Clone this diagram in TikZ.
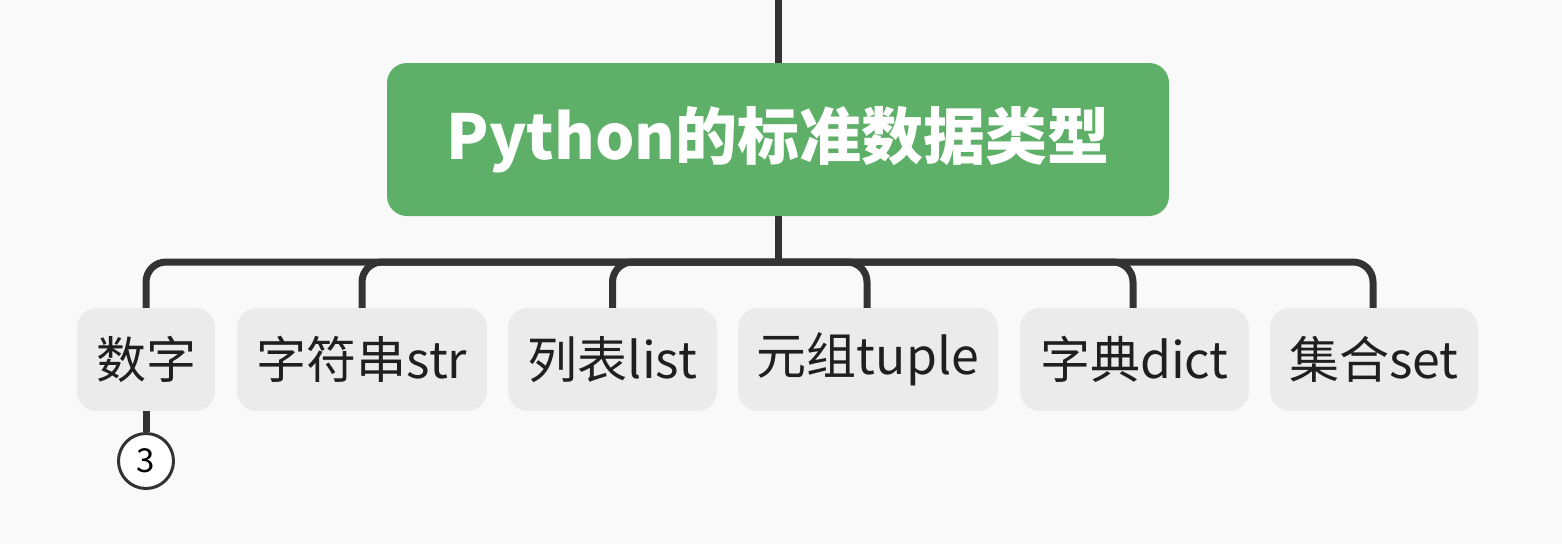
\documentclass[tikz,border=0pt]{standalone}
\usepackage{fontspec}
\setmainfont{Noto Sans CJK SC}
\usepackage{tikz}

\definecolor{rootgreen}{HTML}{5EAF67}
\definecolor{topicgray}{HTML}{EBEBEB}
\definecolor{linegray}{HTML}{333333}
\definecolor{paper}{HTML}{F9F9F9}

\tikzset{
  rootbox/.style={fill=rootgreen, rounded corners=20pt, inner sep=0pt,
    minimum width=782pt, minimum height=153pt, text=white,
    font=\fontsize{62}{70}\selectfont\bfseries},
  topicbox/.style={fill=topicgray, rounded corners=20pt, inner sep=0pt,
    minimum height=103pt, text=black!88,
    font=\fontsize{50}{56}\selectfont},
  branch/.style={draw=linegray, line width=7pt, rounded corners=20pt},
  countmark/.style={circle, draw=linegray, line width=3pt, fill=white,
    minimum size=55pt, inner sep=0pt, font=\fontsize{33}{36}\selectfont}
}

\begin{document}
\begin{tikzpicture}[x=1pt,y=-1pt]
  \fill[paper] (0,0) rectangle (1562,544);
  \useasboundingbox (0,0) rectangle (1562,544);

  \coordinate (top) at (778,0);
  \coordinate (hub) at (778,262);

  \node[rootbox] (root) at (778,139.5) {Python的标准数据类型};

  \node[topicbox, minimum width=138pt] (num) at (146,359.5) {数字};
  \node[topicbox, minimum width=250pt] (str) at (362,359.5) {字符串str};
  \node[topicbox, minimum width=209pt] (list) at (612.5,359.5) {列表list};
  \node[topicbox, minimum width=260pt] (tuple) at (868,359.5) {元组tuple};
  \node[topicbox, minimum width=229pt] (dict) at (1134.5,359.5) {字典dict};
  \node[topicbox, minimum width=208pt] (set) at (1374,359.5) {集合set};

  \node[countmark] (numcount) at (146,461) {3};

  \draw[branch] (top) -- (root.north);
  \draw[branch] (root.south) -- (hub);
  \draw[branch] (hub) -| (num.north);
  \draw[branch] (hub) -| (str.north);
  \draw[branch] (hub) -| (list.north);
  \draw[branch] (hub) -| ([xshift=-1pt]tuple.north);
  \draw[branch] (hub) -| ([xshift=-1.5pt]dict.north);
  \draw[branch] (hub) -| ([xshift=-1pt]set.north);
  \draw[branch] (num.south) -- (numcount.north);

\end{tikzpicture}
\end{document}
